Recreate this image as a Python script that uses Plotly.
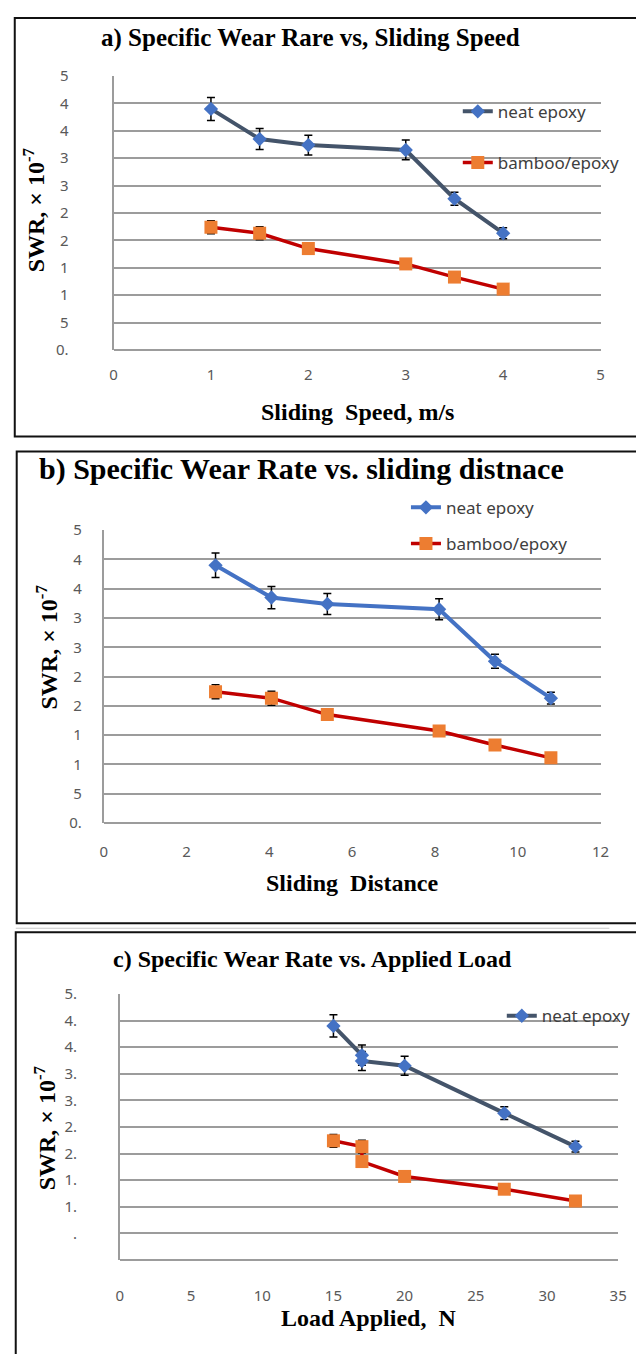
import plotly.graph_objects as go

# ---------------- data ----------------
speed = [1, 1.5, 2, 3, 3.5, 4]                     # m/s
distance = [2.7, 4.05, 5.4, 8.1, 9.45, 10.8]        # sliding distance
load = [15, 17, 17, 20, 27, 32]                     # N
neat_swr = [4.40, 3.85, 3.74, 3.65, 2.76, 2.13]
neat_err = [0.21, 0.19, 0.18, 0.18, 0.12, 0.10]
bamboo_swr = [2.24, 2.13, 1.85, 1.57, 1.33, 1.11]
bamboo_err = [0.12, 0.12, 0.05, 0.05, 0.05, 0.05]

ytick_vals = [0, 0.5, 1, 1.5, 2, 2.5, 3, 3.5, 4, 4.5, 5]
ytick_text_ab = ["0.", "5", "1", "1", "2", "2", "3", "3", "4", "4", "5"]
ytick_text_c = ["", ".", "1.", "1.", "2.", "2.", "3.", "3.", "4.", "4.", "5."]

titles = ["a) Specific Wear Rare vs, Sliding Speed",
          "b) Specific Wear Rate vs. sliding distnace",
          "c) Specific Wear Rate vs. Applied Load"]
xtitles = ["Sliding&nbsp; Speed, m/s", "Sliding&nbsp; Distance", "Load Applied,&nbsp; N"]
ytitle = "SWR, × 10<sup>-7</sup>"

W, H = 636, 1354
def px(x): return x / W
def py(y): return 1 - y / H

GRID = "#9c9c9c"
SLATE = "#44546A"
BLUE = "#4472C4"
RED = "#C00000"
ORANGE = "#ED7D31"
TICKFONT = dict(family="Noto Sans", size=15, color="#595959")
LEGFONT = dict(family="Noto Sans", size=17, color="#404040")
SERIF = "Liberation Serif"

fig = go.Figure()

panels = [
    dict(x=speed, xr=[0, 5], dt=1, neat_line=SLATE, yt=ytick_text_ab,
         xd=[px(112), px(610)], yd=[py(344), py(66)], leg="legend", std=40,
         xstd=14, show_bamboo=True),
    dict(x=distance, xr=[0, 12], dt=2, neat_line=BLUE, yt=ytick_text_ab,
         xd=[px(102), px(610)], yd=[py(824), py(527)], leg="legend2", std=17,
         xstd=18, show_bamboo=True),
    dict(x=load, xr=[0, 35], dt=5, neat_line=SLATE, yt=ytick_text_c,
         xd=[px(118.5), px(628)], yd=[py(1267.7), py(997.7)], leg="legend3", std=38,
         xstd=25, show_bamboo=False),
]

for i, p in enumerate(panels):
    n = "" if i == 0 else str(i + 1)
    xa, ya = "x" + n, "y" + n
    fig.add_trace(go.Scatter(
        x=p["x"], y=neat_swr, xaxis=xa, yaxis=ya, name="neat epoxy",
        mode="lines+markers", legend=p["leg"], legendgroup="neat" + n,
        line=dict(color=p["neat_line"], width=4),
        marker=dict(symbol="diamond", size=11, color=BLUE),
        error_y=dict(type="data", array=neat_err, visible=True,
                     color="black", thickness=1.5, width=4)))
    fig.add_trace(go.Scatter(
        x=p["x"], y=bamboo_swr, xaxis=xa, yaxis=ya, name="bamboo/epoxy",
        mode="lines+markers", legend=p["leg"], legendgroup="bamboo" + n,
        showlegend=p["show_bamboo"],
        line=dict(color=RED, width=3.5),
        marker=dict(symbol="square", size=13, color=ORANGE),
        error_y=dict(type="data", array=bamboo_err, visible=True,
                     color="black", thickness=1.5, width=4)))
    fig.layout["xaxis" + n] = dict(
        domain=p["xd"], range=p["xr"], dtick=p["dt"], tick0=0, anchor=ya,
        showgrid=False, zeroline=False, showline=False, ticks="",
        tickfont=TICKFONT, ticklabelstandoff=p["xstd"])
    fig.layout["yaxis" + n] = dict(
        domain=p["yd"], range=[0, 5], anchor=xa, tickmode="array",
        tickvals=ytick_vals, ticktext=p["yt"], showgrid=True,
        gridcolor=GRID, gridwidth=1.8, zeroline=True, zerolinecolor=GRID,
        zerolinewidth=1.8, showline=True, linecolor=GRID, linewidth=1.8,
        ticks="", tickfont=TICKFONT, ticklabelstandoff=p["std"])

# legends
fig.update_layout(
    legend=dict(x=px(464), y=py(84), xanchor="left", yanchor="top",
                font=LEGFONT, bgcolor="rgba(0,0,0,0)", tracegroupgap=26),
    legend2=dict(x=px(411), y=py(486), xanchor="left", yanchor="top",
                 font=LEGFONT, bgcolor="rgba(0,0,0,0)", tracegroupgap=11),
    legend3=dict(x=px(509), y=py(1002), xanchor="left", yanchor="top",
                 font=LEGFONT, bgcolor="rgba(0,0,0,0)"),
)

ann = []
# titles
for (t, cx, cy, fs) in [(titles[0], 313, 27, 25), (titles[1], 304, 465, 30),
                        (titles[2], 315, 962, 24)]:
    ann.append(dict(text="<b>" + t + "</b>", x=px(cx), y=py(cy), xref="paper",
                    yref="paper", xanchor="center", yanchor="middle",
                    showarrow=False, font=dict(family=SERIF, size=fs, color="black")))
# x axis titles
for (t, cx, cy) in [(xtitles[0], 361, 407), (xtitles[1], 356, 885), (xtitles[2], 373, 1327)]:
    ann.append(dict(text="<b>" + t + "</b>", x=px(cx), y=py(cy), xref="paper",
                    yref="paper", xanchor="center", yanchor="middle",
                    showarrow=False, font=dict(family=SERIF, size=24, color="black")))
# y axis titles
for (cx, cy) in [(31, 202), (44, 646), (42, 1134)]:
    ann.append(dict(text="<b>" + ytitle + "</b>", x=px(cx), y=py(cy), xref="paper",
                    yref="paper", xanchor="center", yanchor="middle", textangle=-90,
                    showarrow=False, font=dict(family=SERIF, size=24, color="black")))

shapes = [
    dict(type="rect", xref="paper", yref="paper", x0=px(11), x1=px(650),
         y0=py(7), y1=py(432), line=dict(color="#111", width=2)),
    dict(type="rect", xref="paper", yref="paper", x0=px(13), x1=px(650),
         y0=py(447), y1=py(926), line=dict(color="#111", width=2)),
    dict(type="line", xref="paper", yref="paper", x0=px(12), x1=px(619),
         y0=py(931), y1=py(931), line=dict(color="#c8c8c8", width=1)),
    dict(type="rect", xref="paper", yref="paper", x0=px(12), x1=px(650),
         y0=py(935), y1=py(1370), line=dict(color="#111", width=2)),
]

fig.update_layout(width=W, height=H, margin=dict(l=0, r=0, t=0, b=0),
                  paper_bgcolor="white", plot_bgcolor="white",
                  annotations=ann, shapes=shapes, showlegend=True)

fig.write_html("out.html")
